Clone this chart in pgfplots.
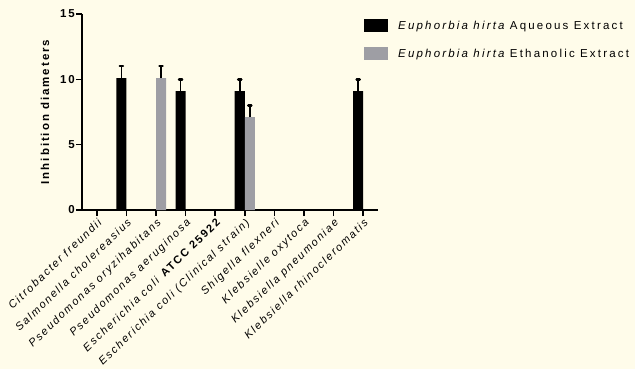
\documentclass[border=0pt]{standalone}
\usepackage{fontspec}
\setmainfont{Liberation Sans}[LetterSpace=17]
\newfontfamily\legendfont{Liberation Sans}[LetterSpace=19]
\newfontfamily\catfont{Liberation Sans}[LetterSpace=16]
\usepackage{pgfplots}
\pgfplotsset{compat=1.18}
\definecolor{paper}{RGB}{255,252,234}
\definecolor{ethgray}{RGB}{158,158,164}

\begin{document}
\fontsize{11.5}{13}\selectfont
\begin{tikzpicture}
\fill[paper] (0pt,0pt) rectangle (635pt,-369pt);
\path[use as bounding box] (0pt,0pt) rectangle (635pt,-369pt);
\begin{axis}[
  at={(82pt,-210pt)}, anchor=south west,
  scale only axis, width=296pt, height=196pt,
  xmin=-0.5, xmax=9.5, ymin=0, ymax=15,
  axis lines*=left,
  axis line style={line width=1.5pt, black},
  xtick={0,...,9},
  xticklabels={
    {Citrobacter freundii},
    {Salmonella cholereasius},
    {Pseudomonas oryzihabitans},
    {Pseudomonas aeruginosa},
    {Escherichia coli \textup{\bfseries ATCC 25922}},
    {Escherichia coli (Clinical strain)},
    {Shigella flexneri},
    {Klebsielle oxytoca},
    {Klebsiella pneumoniae},
    {Klebsiella rhinocleromatis}},
  ytick={0,5,10,15},
  tick align=outside,
  major tick length=6pt,
  every tick/.style={black, line width=1.5pt},
  x tick label style={rotate=44, anchor=north east, inner sep=1pt,
    font=\catfont\fontsize{11}{13}\selectfont\itshape},
  y tick label style={font=\bfseries, inner sep=1pt},
  /pgf/number format/assume math mode=true,
  ylabel={\bfseries Inhibition diameters},
  ylabel style={at={(axis description cs:-0.125,0.5)}, anchor=center},
  clip=false,
  legend cell align=left,
  legend style={
    at={(axis description cs:0.9527,0.9745)}, anchor=north west,
    draw=none, fill=none, inner sep=0pt,
    row sep=15pt, column sep=10pt,
    font=\legendfont\fontsize{11.5}{13}\selectfont,
    nodes={inner sep=0pt, anchor=base west},
  },
  every axis plot/.append style={
    ybar, bar width=0.34, bar shift=0pt, draw=none,
    error bars/y dir=plus, error bars/y explicit,
    error bars/error bar style={line width=1.5pt, black},
    error bars/error mark=|,
    error bars/error mark options={black, mark size=1.6pt, line width=2.4pt, line cap=round}},
]
% aqueous extract, left half of each group
\addplot[fill=black,
  legend image code/.code={\fill[black] (0pt,-2.4pt) rectangle (24pt,10.6pt);}]
  coordinates {(0.83,10.1) +- (0,0.9) (2.83,9.1) +- (0,0.9)
               (4.83,9.1) +- (0,0.9) (8.83,9.1) +- (0,0.9)};
\addlegendentry{\itshape Euphorbia hirta\upshape\ Aqueous Extract}
% ethanolic extract, right half of each group
\addplot[fill=ethgray,
  legend image code/.code={\fill[ethgray] (0pt,-2.4pt) rectangle (24pt,10.6pt);}]
  coordinates {(2.17,10.1) +- (0,0.9) (5.17,7.1) +- (0,0.9)};
\addlegendentry{\itshape Euphorbia hirta\upshape\ Ethanolic Extract}
\end{axis}
\end{tikzpicture}
\end{document}
